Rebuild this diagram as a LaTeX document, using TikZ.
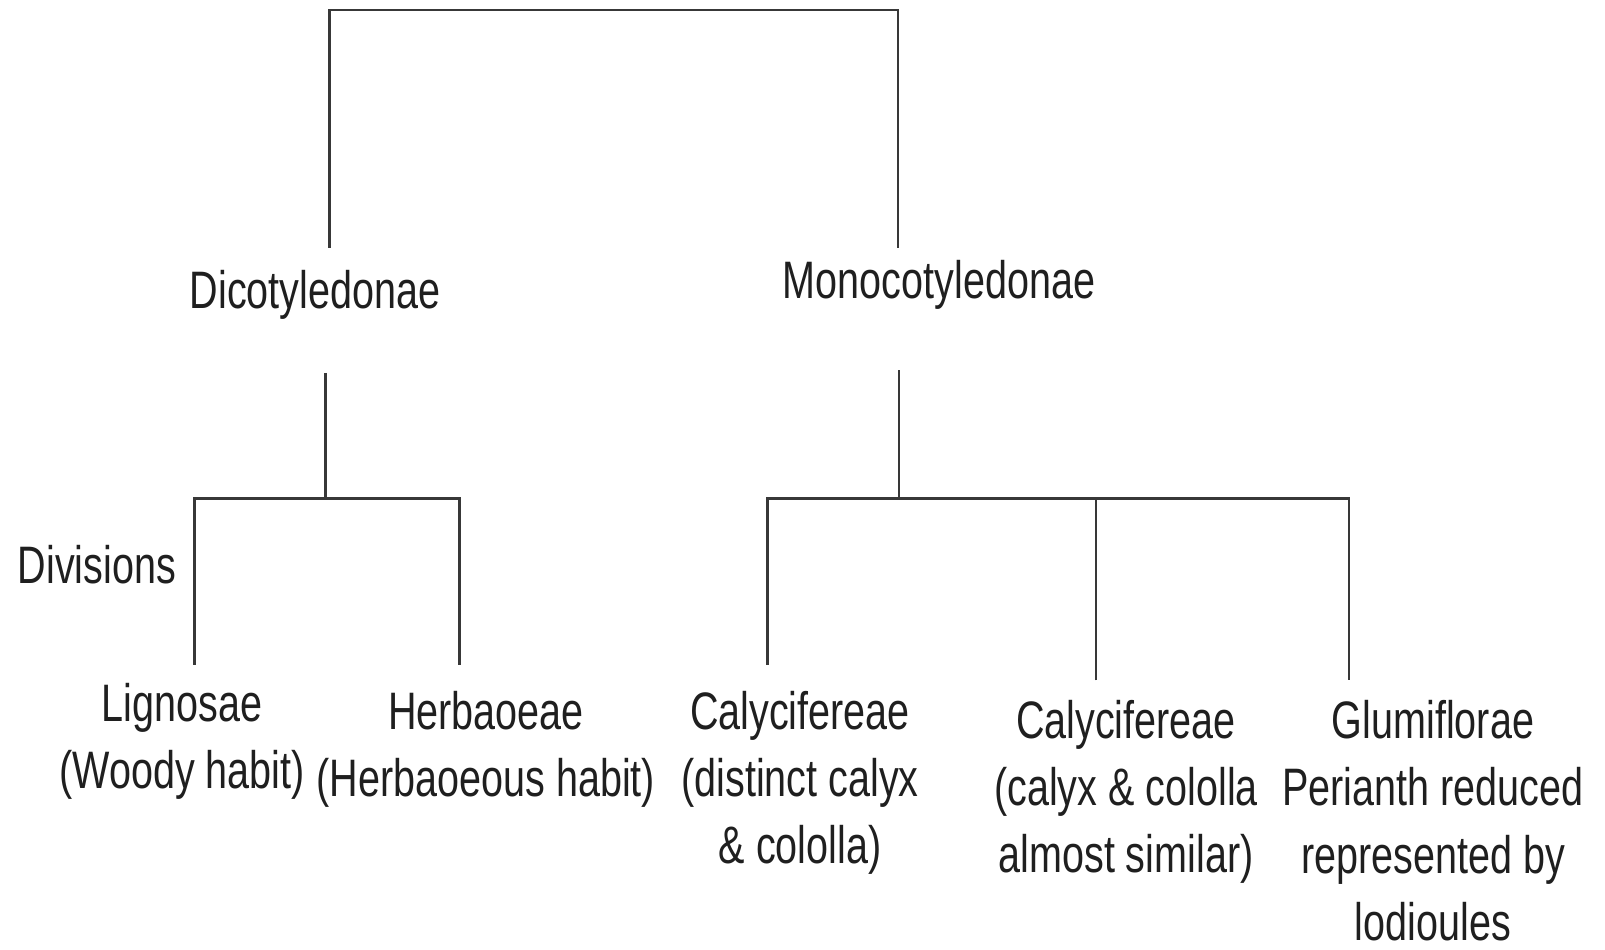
\documentclass[tikz,border=0pt]{standalone}
\usepackage{fontspec}
\setmainfont{Liberation Sans}[FakeStretch=0.75]
\usetikzlibrary{positioning}

\begin{document}
\begin{tikzpicture}[
  font=\fontsize{30}{38.4}\selectfont,
  taxon/.style={align=center,anchor=base,inner sep=0pt,text=black!88},
  branch/.style={draw=black!78,line width=1.3pt}
]
\useasboundingbox (0,0) rectangle (32.1,19);

% Two classes.
\node[taxon] (dico) at (6.30,12.82) {Dicotyledonae};
\node[taxon] (mono) at (18.78,13.02) {Monocotyledonae};
\coordinate (d-up) at (6.59,14.04);
\coordinate (m-up) at (17.96,14.04);
\coordinate (root) at (12.3,18.8);
\draw[branch] (d-up) |- (root) -| (m-up);

% Dicotyledonae divisions (base = last line).
\node[taxon] (div) at (1.94,7.33) {Divisions};
\node[taxon] (lign) at (3.64,3.22) {Lignosae\\(Woody habit)};
\node[taxon] (herb) at (9.72,3.07) {Herbaoeae\\(Herbaoeous habit)};
\coordinate (d-down) at (6.51,11.54);
\coordinate (d-fork) at (6.51,9.03);
\coordinate (lign-top) at (3.89,5.70);
\coordinate (herb-top) at (9.19,5.70);
\draw[branch] (d-down) -- (d-fork);
\draw[branch] (lign-top) |- (d-fork) -| (herb-top);

% Monocotyledonae series.
\node[taxon] (caly1) at (16.0,1.72) {Calycifereae\\(distinct calyx\\\& cololla)};
\node[taxon] (caly2) at (22.52,1.54) {Calycifereae\\(calyx \& cololla\\almost similar)};
\node[taxon] (glum) at (28.66,0.19) {Glumiflorae\\Perianth reduced\\represented by\\lodioules};
\coordinate (m-down) at (17.98,11.59);
\coordinate (m-fork) at (17.98,9.03);
\coordinate (c1-top) at (15.35,5.70);
\coordinate (c2-top) at (21.92,5.39);
\coordinate (glum-top) at (26.98,5.39);
\draw[branch] (m-down) -- (m-fork);
\draw[branch] (c1-top) |- (m-fork) -| (glum-top);
\draw[branch] (c2-top) -- (c2-top |- m-fork);
\end{tikzpicture}
\end{document}
